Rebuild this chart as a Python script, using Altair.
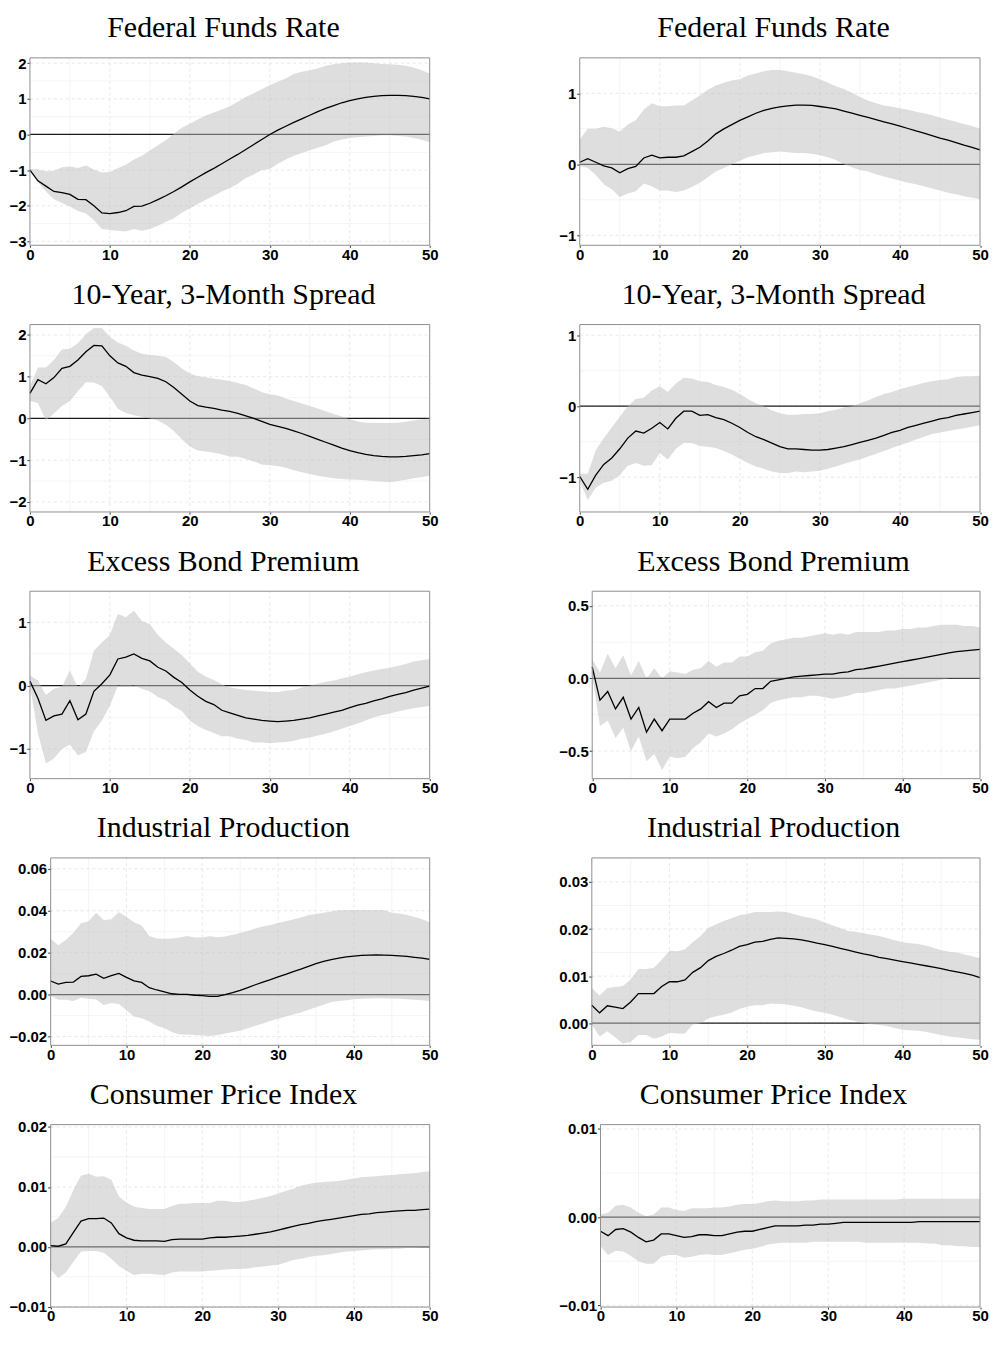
import altair as alt
import pandas as pd

horizon = list(range(51))
x_ticks = [0, 10, 20, 30, 40, 50]
x_minor = [5, 15, 25, 35, 45]

titles = ["Federal Funds Rate", "10-Year, 3-Month Spread", "Excess Bond Premium",
          "Industrial Production", "Consumer Price Index"]

# ---------------- Left column ----------------
ffr_l_mid = [-1.0, -1.3, -1.45, -1.6, -1.63, -1.68, -1.82, -1.83, -2.0, -2.2,
             -2.22, -2.19, -2.14, -2.02, -2.01, -1.93, -1.83, -1.72, -1.6, -1.47,
             -1.33, -1.2, -1.07, -0.95, -0.82, -0.69, -0.56, -0.42, -0.28, -0.14,
             0.0, 0.12, 0.23, 0.34, 0.44, 0.54, 0.64, 0.73, 0.81, 0.89,
             0.95, 1.0, 1.04, 1.07, 1.09, 1.1, 1.1, 1.09, 1.07, 1.04,
             1.0]
ffr_l_hi = [-0.97, -0.98, -1.03, -1.02, -0.92, -0.9, -0.94, -0.87, -0.98, -1.07,
            -1.05, -0.95, -0.85, -0.7, -0.6, -0.45, -0.3, -0.16, 0.02, 0.19,
            0.3, 0.42, 0.53, 0.62, 0.7, 0.79, 0.92, 1.05, 1.16, 1.27,
            1.39, 1.48, 1.57, 1.7, 1.76, 1.8, 1.85, 1.93, 1.97, 2.0,
            2.02, 2.02, 2.02, 2.0, 1.98, 1.97, 1.96, 1.93, 1.88, 1.8,
            1.71]
ffr_l_lo = [-1.0, -1.35, -1.6, -1.82, -1.92, -2.02, -2.15, -2.22, -2.4, -2.65,
            -2.68, -2.7, -2.72, -2.65, -2.7, -2.65, -2.56, -2.45, -2.35, -2.2,
            -2.07, -1.95, -1.83, -1.72, -1.6, -1.5, -1.38, -1.22, -1.12, -1.0,
            -0.97, -0.82, -0.7, -0.6, -0.52, -0.44, -0.37, -0.3, -0.2, -0.14,
            -0.1, -0.08, -0.06, -0.04, -0.02, -0.02, -0.04, -0.06, -0.1, -0.15,
            -0.22]

spr_l_mid = [0.6, 0.93, 0.83, 0.98, 1.2, 1.25, 1.4, 1.6, 1.75, 1.74,
             1.5, 1.33, 1.25, 1.1, 1.04, 1.0, 0.96, 0.88, 0.74, 0.58,
             0.42, 0.31, 0.27, 0.24, 0.2, 0.17, 0.12, 0.06, 0.0, -0.07,
             -0.14, -0.19, -0.24, -0.3, -0.36, -0.43, -0.5, -0.57, -0.64, -0.71,
             -0.77, -0.82, -0.86, -0.89, -0.91, -0.92, -0.92, -0.91, -0.89, -0.87,
             -0.84]
spr_l_hi = [0.78, 1.22, 1.22, 1.4, 1.65, 1.67, 1.8, 2.02, 2.17, 2.17,
            1.95, 1.82, 1.74, 1.63, 1.55, 1.52, 1.5, 1.47, 1.35, 1.2,
            1.08, 1.01, 0.99, 0.95, 0.93, 0.9, 0.85, 0.8, 0.72, 0.63,
            0.58, 0.55, 0.48, 0.42, 0.36, 0.3, 0.24, 0.17, 0.11, 0.05,
            -0.02, -0.07, -0.1, -0.11, -0.11, -0.11, -0.1, -0.08, -0.05, -0.02,
            0.0]
spr_l_lo = [0.42, 0.37, -0.05, 0.12, 0.3, 0.42, 0.65, 0.87, 0.86, 0.78,
            0.52, 0.23, 0.13, 0.08, 0.04, 0.0, -0.05, -0.15, -0.3, -0.5,
            -0.67, -0.77, -0.79, -0.82, -0.86, -0.92, -0.92, -0.97, -1.03, -1.1,
            -1.12, -1.14, -1.18, -1.24, -1.29, -1.33, -1.37, -1.4, -1.43, -1.45,
            -1.46, -1.47, -1.48, -1.5, -1.51, -1.52, -1.5, -1.47, -1.43, -1.4,
            -1.37]

ebp_l_mid = [0.07, -0.2, -0.55, -0.48, -0.45, -0.24, -0.54, -0.45, -0.09, 0.03,
             0.17, 0.42, 0.45, 0.5, 0.43, 0.39, 0.29, 0.23, 0.13, 0.05,
             -0.07, -0.17, -0.25, -0.3, -0.39, -0.43, -0.47, -0.51, -0.53, -0.55,
             -0.56, -0.57, -0.56, -0.55, -0.53, -0.51, -0.48, -0.45, -0.42, -0.39,
             -0.35, -0.31, -0.28, -0.24, -0.21, -0.17, -0.14, -0.11, -0.07, -0.04,
             -0.01]
ebp_l_hi = [0.16, 0.08, -0.15, -0.05, -0.02, 0.24, -0.03, 0.1, 0.55, 0.68,
            0.8, 1.13, 1.08, 1.18, 1.02, 0.97, 0.8, 0.68, 0.58, 0.48,
            0.35, 0.22, 0.14, 0.09, 0.02, -0.03, -0.05, -0.07, -0.08, -0.09,
            -0.1, -0.1, -0.08, -0.07, -0.03, 0.0, 0.03, 0.06, 0.08, 0.11,
            0.14, 0.18, 0.21, 0.24, 0.26, 0.28, 0.31, 0.34, 0.38, 0.4,
            0.42]
ebp_l_lo = [0.0, -0.75, -1.23, -1.15, -1.0, -0.93, -1.1, -1.05, -0.72, -0.55,
            -0.32, 0.0, -0.02, 0.0, -0.05, -0.09, -0.18, -0.23, -0.33, -0.4,
            -0.55, -0.64, -0.7, -0.75, -0.8, -0.8, -0.84, -0.86, -0.9, -0.9,
            -0.91, -0.9, -0.89, -0.87, -0.84, -0.82, -0.79, -0.76, -0.72, -0.68,
            -0.64, -0.6, -0.55, -0.5, -0.47, -0.44, -0.41, -0.38, -0.36, -0.34,
            -0.32]

ip_l_mid = [0.0065, 0.005, 0.0058, 0.006, 0.0087, 0.009, 0.0098, 0.0078, 0.009, 0.0101,
            0.0082, 0.0066, 0.0058, 0.0033, 0.0022, 0.0013, 0.0004, 0.0001, 0.0001, -0.0003,
            -0.0005, -0.0008, -0.0008, 0.0, 0.0009, 0.002, 0.0033, 0.0047, 0.006, 0.0072,
            0.0085, 0.0097, 0.011, 0.0122, 0.0135, 0.0148, 0.0158, 0.0167, 0.0174, 0.018,
            0.0184, 0.0187, 0.0188, 0.0189, 0.0188, 0.0187, 0.0185, 0.0182, 0.0178, 0.0174,
            0.0168]
ip_l_hi = [0.0265, 0.0235, 0.026, 0.0295, 0.034, 0.035, 0.039, 0.0355, 0.036, 0.0393,
           0.037, 0.0345, 0.033, 0.028, 0.0268, 0.0267, 0.0268, 0.0272, 0.028, 0.0272,
           0.0272, 0.0278, 0.0273, 0.0277, 0.0285, 0.0294, 0.0303, 0.0315, 0.0325, 0.0332,
           0.0342, 0.035, 0.0358, 0.0368, 0.0378, 0.0385, 0.039, 0.0396, 0.0402, 0.0404,
           0.0404, 0.0404, 0.0404, 0.0404, 0.0402, 0.039, 0.0387, 0.038, 0.037, 0.036,
           0.0345]
ip_l_lo = [-0.0005, -0.0025, -0.0025, -0.003, -0.0015, -0.002, -0.0023, -0.005, -0.004, -0.0045,
           -0.0075, -0.0105, -0.0113, -0.0128, -0.0148, -0.016, -0.0178, -0.019, -0.019, -0.0193,
           -0.0195, -0.0198, -0.0193, -0.0185, -0.0178, -0.0172, -0.016, -0.0148, -0.0138, -0.0125,
           -0.0115, -0.0105, -0.0095, -0.0085, -0.0072, -0.006, -0.0048, -0.0035, -0.003, -0.0027,
           -0.0022, -0.002, -0.0018, -0.0017, -0.0017, -0.0018, -0.002, -0.0022, -0.0025, -0.0027,
           -0.003]

cpi_l_mid = [0.0002, 0.0001, 0.0005, 0.0024, 0.0043, 0.0047, 0.0047, 0.0048, 0.004, 0.0022,
             0.0015, 0.0011, 0.001, 0.001, 0.001, 0.0009, 0.0012, 0.0013, 0.0013, 0.0013,
             0.0013, 0.0015, 0.0016, 0.0016, 0.0017, 0.0018, 0.0019, 0.0021, 0.0023, 0.0025,
             0.0028, 0.0031, 0.0034, 0.0037, 0.0039, 0.0042, 0.0044, 0.0046, 0.0048, 0.005,
             0.0052, 0.0054, 0.0055, 0.0057, 0.0058, 0.0059, 0.006, 0.0061, 0.0061, 0.0062,
             0.0063]
cpi_l_hi = [0.004, 0.0048, 0.0067, 0.0095, 0.0119, 0.0122, 0.0117, 0.0118, 0.0112, 0.0084,
            0.0074, 0.0067, 0.0065, 0.0063, 0.0063, 0.0063, 0.0068, 0.0072, 0.0072, 0.0073,
            0.0073, 0.0073, 0.0077, 0.0077, 0.0075, 0.0075, 0.0077, 0.0079, 0.0082, 0.0085,
            0.0089, 0.0093, 0.0097, 0.0102, 0.0105, 0.0107, 0.0108, 0.0109, 0.011, 0.0112,
            0.0114, 0.0116, 0.0117, 0.0118, 0.0119, 0.012, 0.0121, 0.0122, 0.0123, 0.0125,
            0.0126]
cpi_l_lo = [-0.0038, -0.0052, -0.0043, -0.0025, -0.0008, -0.0007, -0.0007, -0.001, -0.002, -0.0032,
            -0.004, -0.0047, -0.0045, -0.0045, -0.0046, -0.0047, -0.0043, -0.0041, -0.0041, -0.0041,
            -0.0041, -0.004, -0.0039, -0.0038, -0.0037, -0.0037, -0.0036, -0.0034, -0.0033, -0.0031,
            -0.003, -0.0026, -0.0022, -0.002, -0.0017, -0.0015, -0.0014, -0.0012, -0.001, -0.0008,
            -0.0007, -0.0006, -0.0005, -0.0004, -0.0004, -0.0003, -0.0003, -0.0002, -0.0002, -0.0001,
            -0.0001]

# ---------------- Right column ----------------
ffr_r_mid = [0.03, 0.08, 0.03, -0.02, -0.05, -0.12, -0.06, -0.03, 0.09, 0.13,
             0.09, 0.1, 0.1, 0.12, 0.18, 0.24, 0.33, 0.43, 0.5, 0.56,
             0.62, 0.67, 0.72, 0.76, 0.79, 0.81, 0.825, 0.835, 0.835, 0.83,
             0.815, 0.8, 0.78, 0.75, 0.72, 0.69, 0.66, 0.63, 0.6, 0.57,
             0.54, 0.505, 0.47, 0.44, 0.405, 0.37, 0.34, 0.305, 0.27, 0.24,
             0.205]
ffr_r_hi = [0.35, 0.5, 0.5, 0.53, 0.51, 0.46, 0.56, 0.62, 0.77, 0.86,
            0.82, 0.82, 0.83, 0.83, 0.9, 0.97, 1.05, 1.11, 1.15, 1.18,
            1.2, 1.25, 1.28, 1.31, 1.33, 1.33, 1.31, 1.29, 1.27, 1.24,
            1.2, 1.15, 1.1, 1.06, 1.01, 0.95, 0.9, 0.86, 0.83, 0.81,
            0.79, 0.77, 0.74, 0.72, 0.69, 0.66, 0.63, 0.6, 0.57, 0.54,
            0.5]
ffr_r_lo = [-0.02, -0.05, -0.15, -0.28, -0.35, -0.46, -0.41, -0.38, -0.27, -0.31,
            -0.37, -0.37, -0.39, -0.37, -0.32, -0.26, -0.18, -0.1, -0.05, 0.0,
            0.05, 0.1, 0.13, 0.16, 0.17, 0.18, 0.17, 0.16, 0.16, 0.15,
            0.13, 0.1, 0.06, 0.0, -0.04, -0.08, -0.1, -0.14, -0.17, -0.2,
            -0.23, -0.26, -0.28, -0.31, -0.34, -0.37, -0.4, -0.42, -0.45, -0.47,
            -0.49]

spr_r_mid = [-0.99, -1.17, -0.97, -0.82, -0.73, -0.6, -0.45, -0.35, -0.38, -0.31,
             -0.23, -0.32, -0.17, -0.07, -0.07, -0.13, -0.12, -0.16, -0.19, -0.24,
             -0.3, -0.37, -0.43, -0.47, -0.52, -0.57, -0.6, -0.6, -0.61, -0.62,
             -0.62, -0.61, -0.59, -0.57, -0.54, -0.51, -0.48, -0.45, -0.41, -0.37,
             -0.34, -0.3, -0.27, -0.24, -0.21, -0.18, -0.16, -0.13, -0.11, -0.09,
             -0.07]
spr_r_hi = [-0.95, -0.95, -0.62, -0.45, -0.3, -0.15, 0.0, 0.1, 0.12, 0.22,
            0.28, 0.2, 0.32, 0.4, 0.39, 0.35, 0.34, 0.3, 0.27, 0.23,
            0.17, 0.1, 0.04, 0.0, -0.06, -0.1, -0.12, -0.12, -0.11, -0.11,
            -0.1, -0.07, -0.05, -0.02, 0.0, 0.04, 0.08, 0.13, 0.17, 0.2,
            0.24, 0.27, 0.3, 0.33, 0.35, 0.37, 0.38, 0.41, 0.42, 0.42,
            0.43]
spr_r_lo = [-1.05, -1.32, -1.15, -1.08, -1.05, -0.97, -0.84, -0.8, -0.84, -0.83,
            -0.66, -0.75, -0.6, -0.52, -0.52, -0.56, -0.57, -0.59, -0.63, -0.68,
            -0.74, -0.8, -0.85, -0.88, -0.92, -0.94, -0.94, -0.92, -0.93, -0.92,
            -0.91, -0.88, -0.85, -0.81, -0.78, -0.75, -0.71, -0.67, -0.63, -0.59,
            -0.55, -0.51, -0.47, -0.43, -0.39, -0.37, -0.35, -0.33, -0.31, -0.29,
            -0.27]

ebp_r_mid = [0.08, -0.15, -0.09, -0.21, -0.13, -0.28, -0.2, -0.37, -0.28, -0.36,
             -0.28, -0.28, -0.28, -0.24, -0.21, -0.16, -0.2, -0.17, -0.17, -0.12,
             -0.11, -0.07, -0.07, -0.02, -0.01, 0.0, 0.01, 0.015, 0.02, 0.025,
             0.03, 0.03, 0.04, 0.045, 0.06, 0.065, 0.075, 0.085, 0.095, 0.105,
             0.115, 0.125, 0.135, 0.145, 0.155, 0.165, 0.175, 0.185, 0.19, 0.195,
             0.2]
ebp_r_hi = [0.13, 0.04, 0.17, 0.07, 0.16, 0.02, 0.12, 0.0, 0.07, 0.0,
            0.05, 0.04, 0.03, 0.06, 0.07, 0.12, 0.08, 0.11, 0.11, 0.15,
            0.15, 0.18, 0.19, 0.24, 0.26, 0.27, 0.28, 0.28, 0.29, 0.3,
            0.31, 0.3, 0.31, 0.3, 0.32, 0.32, 0.32, 0.32, 0.33, 0.33,
            0.34, 0.34, 0.35, 0.35, 0.36, 0.37, 0.37, 0.37, 0.36, 0.36,
            0.35]
ebp_r_lo = [0.02, -0.33, -0.29, -0.41, -0.34, -0.5, -0.4, -0.57, -0.52, -0.63,
            -0.54, -0.55, -0.54, -0.48, -0.44, -0.38, -0.4, -0.38, -0.35, -0.31,
            -0.28, -0.25, -0.22, -0.17, -0.15, -0.14, -0.13, -0.13, -0.12, -0.12,
            -0.13, -0.14, -0.13, -0.12, -0.1, -0.1, -0.09, -0.08, -0.07, -0.07,
            -0.06, -0.05, -0.04, -0.03, -0.02, -0.01, 0.0, 0.0, 0.0, 0.0,
            0.0]

ip_r_mid = [0.0038, 0.0022, 0.0037, 0.0034, 0.0031, 0.0045, 0.0063, 0.0063, 0.0063, 0.0078,
            0.0088, 0.0088, 0.0092, 0.0108, 0.0118, 0.0133, 0.0142, 0.0148, 0.0155, 0.0163,
            0.0167, 0.0172, 0.0174, 0.0178, 0.0181, 0.018, 0.0179, 0.0177, 0.0174, 0.017,
            0.0167, 0.0163, 0.0159, 0.0155, 0.0151, 0.0147, 0.0144, 0.014, 0.0137, 0.0134,
            0.0131, 0.0128, 0.0125, 0.0122, 0.0119, 0.0116, 0.0112, 0.0109, 0.0106, 0.0102,
            0.0097]
ip_r_hi = [0.0075, 0.0059, 0.0075, 0.0077, 0.0079, 0.0093, 0.0115, 0.0115, 0.0118, 0.0135,
           0.0154, 0.0153, 0.0157, 0.0172, 0.0185, 0.0202, 0.021, 0.0217, 0.0223, 0.0229,
           0.0232, 0.0236, 0.0236, 0.0236, 0.0237, 0.0236, 0.0232, 0.0227, 0.0224, 0.022,
           0.0214, 0.0208, 0.0202, 0.0196, 0.0194, 0.0191, 0.0188, 0.0185, 0.0181, 0.0176,
           0.0172, 0.017, 0.0168, 0.0165, 0.016, 0.0155, 0.0152, 0.015, 0.0146, 0.0142,
           0.0138]
ip_r_lo = [-0.0003, -0.0028, -0.0017, -0.003, -0.0043, -0.004, -0.0025, -0.0025, -0.0033, -0.0028,
           -0.002, -0.0022, -0.0022, -0.0003, 0.0, 0.001, 0.0015, 0.0018, 0.0023, 0.003,
           0.0035, 0.0038, 0.0038, 0.0042, 0.0041, 0.004, 0.0037, 0.0034, 0.0029, 0.0025,
           0.0022, 0.0018, 0.0013, 0.0008, 0.0004, 0.0, -0.0002, -0.0004, -0.0006, -0.001,
           -0.0014, -0.0015, -0.0016, -0.0018, -0.0022, -0.0025, -0.0028, -0.003, -0.0032, -0.0034,
           -0.0035]

cpi_r_mid = [-0.0016, -0.0021, -0.0014, -0.0013, -0.0017, -0.0023, -0.0028, -0.0026, -0.0019, -0.0019,
             -0.0021, -0.0023, -0.0022, -0.002, -0.002, -0.0021, -0.0021, -0.0019, -0.0017, -0.0016,
             -0.0016, -0.0014, -0.0012, -0.001, -0.001, -0.001, -0.001, -0.0009, -0.0009, -0.0008,
             -0.0008, -0.0007, -0.0006, -0.0006, -0.0006, -0.0006, -0.0006, -0.0006, -0.0006, -0.0006,
             -0.0006, -0.0006, -0.0005, -0.0005, -0.0005, -0.0005, -0.0005, -0.0005, -0.0005, -0.0005,
             -0.0005]
cpi_r_hi = [0.0003, 0.0005, 0.0013, 0.0014, 0.0011, 0.0005, 0.0001, 0.0003, 0.0011, 0.0011,
            0.0008, 0.0007, 0.001, 0.001, 0.001, 0.0011, 0.0011, 0.0012, 0.0014, 0.0015,
            0.0015, 0.0016, 0.0018, 0.0019, 0.0018, 0.0018, 0.0018, 0.0019, 0.0019, 0.002,
            0.002, 0.002, 0.002, 0.002, 0.002, 0.002, 0.002, 0.002, 0.002, 0.002,
            0.0021, 0.0021, 0.0021, 0.0021, 0.0021, 0.0021, 0.0021, 0.0021, 0.0021, 0.0021,
            0.0021]
cpi_r_lo = [-0.0033, -0.0043, -0.0038, -0.0039, -0.0044, -0.005, -0.0053, -0.0053, -0.0045, -0.0043,
            -0.0043, -0.0046, -0.0045, -0.0043, -0.0042, -0.0043, -0.0043, -0.0041, -0.0039, -0.0037,
            -0.0036, -0.0034, -0.0031, -0.003, -0.0029, -0.0029, -0.0029, -0.0029, -0.0028, -0.0028,
            -0.0028, -0.0028, -0.0028, -0.0028, -0.0028, -0.0029, -0.0029, -0.0029, -0.0029, -0.0029,
            -0.0029, -0.0029, -0.0029, -0.003, -0.003, -0.0032, -0.0032, -0.0033, -0.0033, -0.0034,
            -0.0034]

# y-axis tick labels per panel
ticks_ffr_l = [-3, -2, -1, 0, 1, 2]
ticks_spr_l = [-2, -1, 0, 1, 2]
ticks_ebp_l = [-1, 0, 1]
ticks_ip_l = [-0.02, 0.0, 0.02, 0.04, 0.06]
ticks_cpi_l = [-0.01, 0.0, 0.01, 0.02]
ticks_ffr_r = [-1, 0, 1]
ticks_spr_r = [-1, 0, 1]
ticks_ebp_r = [-0.5, 0.0, 0.5]
ticks_ip_r = [0.0, 0.01, 0.02, 0.03]
ticks_cpi_r = [-0.01, 0.0, 0.01]


def make_panel(title, mid, lo, hi, domain, ticks, fmt, width, height, shift, toff):
    """shift: pixels between the panel's layout origin and its framed plot area."""
    df = pd.DataFrame({"h": horizon, "mid": mid, "lo": lo, "hi": hi})
    step = ticks[1] - ticks[0]
    cand = [ticks[0] - step / 2] + [t + step / 2 for t in ticks]
    y_minor = [v for v in cand if domain[0] < v < domain[1]]
    y_major = [t for t in ticks if domain[0] < t < domain[1]]

    xs = alt.Scale(domain=[0, 50], range=[shift, width], nice=False, zero=False)
    ys = alt.Scale(domain=domain, nice=False, zero=False)
    xax = alt.Axis(values=x_ticks, title=None, format="d", labelFlush=False,
                   tickSize=2, labelPadding=0)
    yax = alt.Axis(values=ticks, title=None, format=fmt, tickSize=3, labelPadding=1,
                   offset=-shift)

    X = lambda f: alt.X(f, type="quantitative", scale=xs, axis=xax)
    Y = lambda f: alt.Y(f, type="quantitative", scale=ys, axis=yax)

    def hrules(vals):
        return pd.DataFrame({"v": vals, "a": [0] * len(vals), "b": [50] * len(vals)})

    def vrules(vals):
        return pd.DataFrame({"v": vals, "a": [domain[0]] * len(vals), "b": [domain[1]] * len(vals)})

    gxm = alt.Chart(vrules(x_minor)).mark_rule(color="#f2f2f2", strokeWidth=0.8).encode(
        x=X("v"), y=Y("a"), y2="b")
    gym = alt.Chart(hrules(y_minor)).mark_rule(color="#f2f2f2", strokeWidth=0.8).encode(
        y=Y("v"), x=X("a"), x2="b")
    gxM = alt.Chart(vrules(x_ticks[1:-1])).mark_rule(
        color="#e2e2e2", strokeWidth=0.8, strokeDash=[3, 3]).encode(x=X("v"), y=Y("a"), y2="b")
    gyM = alt.Chart(hrules(y_major)).mark_rule(
        color="#e2e2e2", strokeWidth=0.8, strokeDash=[3, 3]).encode(y=Y("v"), x=X("a"), x2="b")
    zero = alt.Chart(hrules([0.0])).mark_rule(color="#1c1c1c", strokeWidth=1.3).encode(
        y=Y("v"), x=X("a"), x2="b")
    band = alt.Chart(df).mark_area(color="#bdbdbd", opacity=0.5).encode(
        x=X("h"), y=Y("lo"), y2="hi")
    line = alt.Chart(df).mark_line(color="black", strokeWidth=1.3).encode(
        x=X("h"), y=Y("mid"))
    frame_df = pd.DataFrame({"x0": [0], "x1": [50], "y0": [domain[0]], "y1": [domain[1]]})
    frame = alt.Chart(frame_df).mark_rect(
        fillOpacity=0, stroke="#8f8f8f", strokeWidth=1).encode(
        x=X("x0"), x2="x1", y=Y("y0"), y2="y1")
    return alt.layer(gxm, gym, gxM, gyM, zero, band, line, frame).properties(
        width=width, height=height,
        title=alt.TitleParams(text=title, offset=toff))


H = 188
H5 = 183
WL = 401
WR = 401.5
panels = [
    make_panel(titles[0], ffr_l_mid, ffr_l_lo, ffr_l_hi, [-3.11, 2.15], ticks_ffr_l, "d", WL, H, 0, 12.9),
    make_panel(titles[0], ffr_r_mid, ffr_r_lo, ffr_r_hi, [-1.14, 1.50], ticks_ffr_r, "d", WR, H, 0, 14),
    make_panel(titles[1], spr_l_mid, spr_l_lo, spr_l_hi, [-2.24, 2.25], ticks_spr_l, "d", WL, H, 0, 14),
    make_panel(titles[1], spr_r_mid, spr_r_lo, spr_r_hi, [-1.49, 1.15], ticks_spr_r, "d", WR, H, 0, 14),
    make_panel(titles[2], ebp_l_mid, ebp_l_lo, ebp_l_hi, [-1.47, 1.49], ticks_ebp_l, "d", WL, H, 0, 14),
    make_panel(titles[2], ebp_r_mid, ebp_r_lo, ebp_r_hi, [-0.69, 0.60], ticks_ebp_r, ".1f", WR, H, 12.5, 14),
    make_panel(titles[3], ip_l_mid, ip_l_lo, ip_l_hi, [-0.0242, 0.0652], ticks_ip_l, ".2f", WL, H, 20.8, 14),
    make_panel(titles[3], ip_r_mid, ip_r_lo, ip_r_hi, [-0.0047, 0.0351], ticks_ip_r, ".2f", WR, H, 12.1, 14),
    make_panel(titles[4], cpi_l_mid, cpi_l_lo, cpi_l_hi, [-0.01005, 0.0204], ticks_cpi_l, ".2f", WL, H5, 20.8, 9.9),
    make_panel(titles[4], cpi_r_mid, cpi_r_lo, cpi_r_hi, [-0.0102, 0.0105], ticks_cpi_r, ".2f", WR, H5, 20.8, 12),
]

chart = alt.concat(
    *panels, columns=2, align="none", spacing={"row": 17.5, "column": 119.5}
).properties(
    padding={"left": 0, "top": 3, "right": 0, "bottom": 0}
).configure_view(
    strokeWidth=0
).configure_axis(
    labelFont="Liberation Sans", labelFontWeight="bold", labelFontSize=15,
    labelColor="black", tickColor="#333333", tickWidth=1, domain=False, grid=False
).configure_title(
    font="Liberation Serif", fontSize=30, fontWeight="normal", color="black",
    anchor="middle", frame="bounds"
)

chart.save("out.html", embed_options={"renderer": "svg", "actions": False})
